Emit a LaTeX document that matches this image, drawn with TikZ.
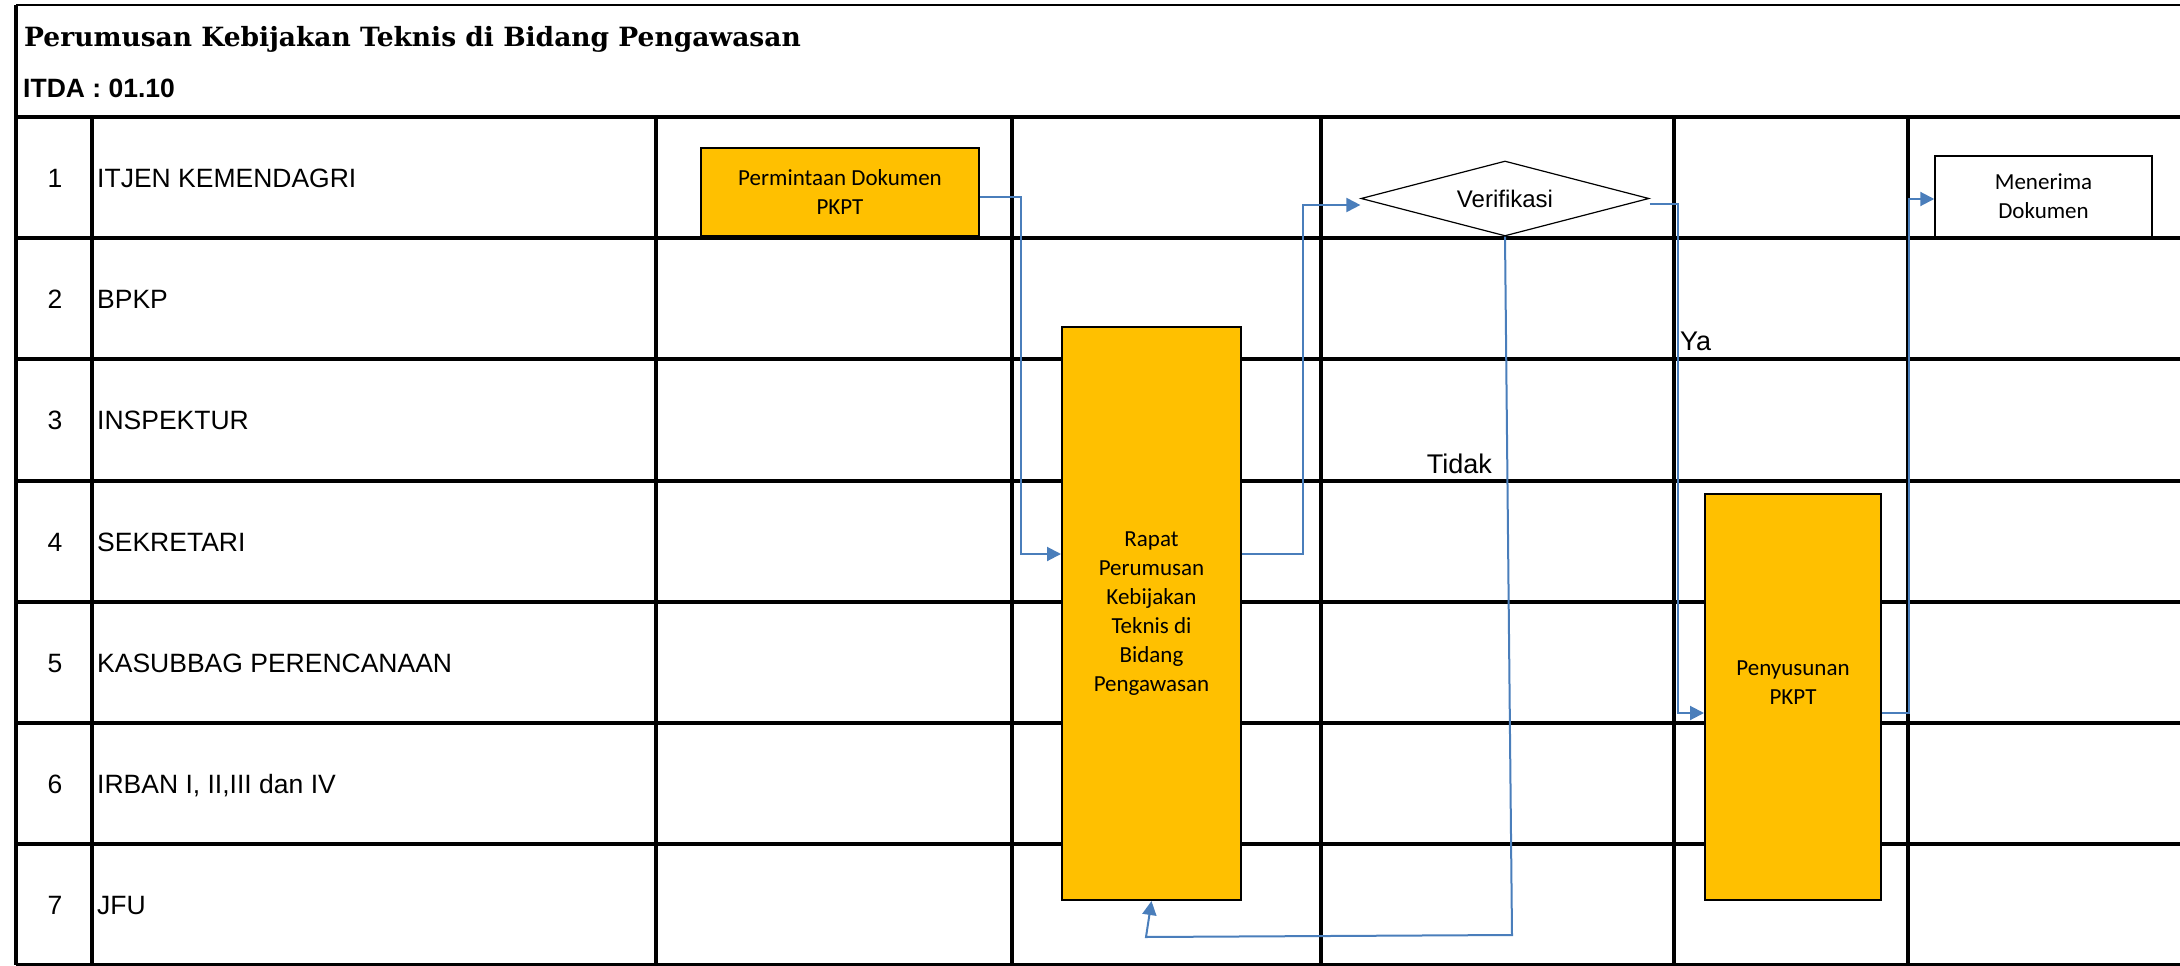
\documentclass[tikz,border=0pt]{standalone}
\usepackage{fontspec}
\setmainfont{Liberation Sans}
\newfontfamily\calibri{Carlito}
\newfontfamily\headserif{DejaVu Serif}
\usetikzlibrary{arrows.meta,shapes.geometric}

\definecolor{boxfill}{HTML}{FFC000}
\definecolor{flowblue}{HTML}{4A7EBB}

\tikzset{
  grid/.style={line width=3.5pt, black},
  frame/.style={line width=2pt, black},
  procbox/.style={draw=black, line width=2pt, fill=boxfill, inner sep=0pt,
    align=center, font=\calibri\fontsize{23pt}{29pt}\selectfont},
  endbox/.style={draw=black, line width=1.5pt, fill=white, inner sep=0pt,
    align=center, font=\calibri\fontsize{23pt}{29pt}\selectfont},
  decision/.style={diamond, aspect=3.84, draw=black, line width=1.2pt, fill=white,
    inner sep=0pt, font=\fontsize{24pt}{29pt}\selectfont},
  flow/.style={draw=flowblue, line width=2pt, -{Triangle[length=14pt,width=14pt]}},
  plain/.style={inner sep=0pt},
  rownum/.style={plain, anchor=base, font=\fontsize{26.5pt}{32pt}\selectfont},
  rowname/.style={plain, anchor=base west, font=\fontsize{26.5pt}{32pt}\selectfont},
  flowlabel/.style={plain, font=\fontsize{27pt}{32pt}\selectfont}
}

\begin{document}
\begin{tikzpicture}[x=1pt, y=-1pt]
\useasboundingbox (0,0) rectangle (2180,966);

% heading
\node[plain, anchor=base west, font=\headserif\bfseries\fontsize{26.5pt}{32pt}\selectfont] (title) at (24,47)
  {Perumusan Kebijakan Teknis di Bidang Pengawasan};
\node[plain, anchor=base west, font=\bfseries\fontsize{26.5pt}{32pt}\selectfont] (code) at (23,97)
  {ITDA : 01.10};

% table frame
\draw[frame] (16,5) -- (2180,5);
\draw[grid] (16,5) -- (16,965);
\foreach \y in {117,238,359,481,602,723,844,965}
  \draw[grid] (16,\y) -- (2180,\y);
\foreach \x in {92,656,1012,1321,1674,1908}
  \draw[grid] (\x,117) -- (\x,965);

% lanes
\foreach \n/\name/\c in {1/ITJEN KEMENDAGRI/177.5, 2/BPKP/298.5, 3/INSPEKTUR/420,
    4/SEKRETARI/541.5, 5/KASUBBAG PERENCANAAN/662.5, 6/{IRBAN I, II,III dan IV}/783.5,
    7/JFU/904.5} {
  \node[rownum] (num\n) at (55,\c+9.5) {\n};
  \node[rowname] (lane\n) at (97,\c+9.5) {\name};
}

% steps
\node[procbox, minimum width=278pt, minimum height=88pt] (req) at (840,192)
  {Permintaan Dokumen\\PKPT};
\node[procbox, minimum width=179pt, minimum height=573pt] (rapat) at (1151.5,613.5)
  {Rapat\\Perumusan\\Kebijakan\\Teknis di\\Bidang\\Pengawasan};
\node[decision, minimum width=288pt, minimum height=75pt] (ver) at (1505,198.5)
  {Verifikasi};
\node[procbox, minimum width=176pt, minimum height=406pt, text depth=28pt] (pen) at (1793,697)
  {Penyusunan\\PKPT};
\node[endbox, minimum width=217pt, minimum height=81pt] (men) at (2043.5,196.5)
  {Menerima\\Dokumen};

% return path of the check
\coordinate (backdown) at (1512,935);
\coordinate (backleft) at (1146,937);

% flow
\draw[flow] ([yshift=-5pt]req.east) -- ++(41,0) |- ([yshift=59.5pt]rapat.west);
\draw[flow] ([yshift=59.5pt]rapat.east) -- ++(61,0) |- ([yshift=-6.5pt]ver.west);
\draw[flow] ([yshift=-5.5pt]ver.east) -- ++(28,0) |- ([yshift=-16pt]pen.west);
\draw[flow] (ver.south) -- (backdown) -- (backleft) -- (rapat.south);
\draw[flow] ([yshift=-16pt]pen.east) -- ++(27,0) |- ([yshift=-2.5pt]men.west);

\node[flowlabel, anchor=base west] (ya) at (1680,350) {Ya};
\node[flowlabel, anchor=base east] (tidak) at (1492,473) {Tidak};
\end{tikzpicture}
\end{document}
